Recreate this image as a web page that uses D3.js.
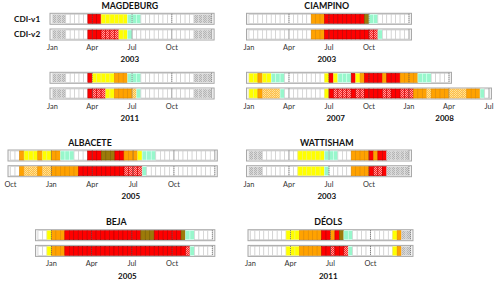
<!DOCTYPE html>
<html><head><meta charset="utf-8">
<script src="https://cdn.jsdelivr.net/npm/d3@7"></script>
<style>body{margin:0;background:#fff} svg{display:block}</style>
</head><body>
<svg id="chart" width="500" height="284"></svg>
<script>
// ---- categories (dekad classes) ----
const categoryCodes = ["W","G","Y","O","o","R","r","B","A"];
const seriesLabels = ["CDI-v1","CDI-v2"];

// ---- dekad runs per strip: [class, number of dekads] ----
const magdeburg2003V1 = [["G",3],["W",5],["R",3],["Y",6],["A",3],["W",12],["G",4]];
const magdeburg2003V2 = [["G",3],["W",5],["R",3],["r",4],["Y",2],["A",1],["W",14],["G",4]];
const magdeburg2011V1 = [["G",3],["W",5],["R",1],["Y",5],["O",3],["A",3],["W",12],["G",4]];
const magdeburg2011V2 = [["G",3],["W",5],["R",1],["r",3],["Y",2],["O",4],["o",1],["A",1],["W",12],["G",4]];
const albacete2005V1 = [["W",2],["O",1],["Y",3],["O",1],["Y",2],["O",2],["A",3],["W",3],["R",3],["B",3],["R",2],["O",3],["Y",1],["A",3],["W",13]];
const albacete2005V2 = [["W",2],["O",1],["o",3],["O",1],["o",2],["O",6],["R",10],["r",4],["A",1],["W",15]];
const beja2005V1 = [["W",2],["Y",1],["O",3],["R",17],["B",3],["R",6],["B",1],["A",2],["W",4]];
const beja2005V2 = [["W",2],["Y",1],["O",3],["R",27],["r",1],["A",1],["W",4]];
const ciampino2003V1 = [["W",14],["O",3],["R",9],["B",1],["A",2],["W",7]];
const ciampino2003V2 = [["W",14],["O",3],["R",10],["r",2],["A",1],["W",6]];
const ciampino2007V1 = [["Y",2],["O",1],["Y",2],["A",3],["W",9],["Y",1],["R",1],["Y",1],["A",3],["R",1],["Y",1],["O",1],["R",4],["O",1],["R",3],["O",4],["A",3],["W",4]];
const ciampino2007V2 = [["Y",2],["O",1],["o",4],["A",1],["W",9],["Y",1],["R",1],["r",4],["R",1],["r",2],["R",4],["r",2],["R",2],["r",3],["O",3],["o",1],["O",4],["o",4],["O",3],["A",1],["W",1]];
const wattisham2003V1 = [["G",3],["W",8],["Y",6],["A",3],["W",3],["O",4],["R",1],["O",1],["R",2],["G",5]];
const wattisham2003V2 = [["G",3],["W",8],["Y",6],["A",1],["W",5],["O",4],["R",1],["r",2],["R",1],["G",5]];
const deols2011V1 = [["W",8],["Y",3],["O",5],["R",2],["O",1],["R",1],["B",1],["A",2],["W",9],["Y",1],["O",1],["G",2]];
const deols2011V2 = [["W",8],["Y",3],["O",5],["R",2],["r",1],["R",2],["r",1],["A",1],["W",9],["Y",1],["O",1],["G",2]];

// ---- tick labels (month names) and their dekad index ----
const ticksYear = ["Jan","Apr","Jul","Oct"];
const ticksYearPos = [0,9,18,27];
const ticksAlbacete = ["Oct","Jan","Apr","Jul","Oct"];
const ticksAlbacetePos = [0,9,18,27,36];
const ticksBeja = ["Jan","Apr","Jul","Oct"];
const ticksBejaPos = [3,12,21,30];
const ticksCiampino07 = ["Jan","Apr","Jul","Oct","Jan","Apr","Jul"];
const ticksCiampino07Pos = [0,9,18,27,36,45,54];

// ---- year labels ----
const yearsMagdeburg03 = ["2003"], yearsMagdeburg11 = ["2011"], yearsAlbacete = ["2005"], yearsBeja = ["2005"];
const yearsCiampino03 = ["2003"], yearsCiampino07 = ["2007","2008"], yearsWattisham = ["2003"], yearsDeols = ["2011"];
const yearPos1 = [17.5], yearPosAlb = [26.5], yearPosBeja = [20], yearPosC07 = [19.5, 44];

// ---- layout (positions only) ----
const panels = [
  {title:"MAGDEBURG", v1:magdeburg2003V1, v2:magdeburg2003V2, ticks:ticksYear, tpos:ticksYearPos, years:yearsMagdeburg03, ypos:yearPos1, x0:52.5, d:4.42, top:13.3, labels:true},
  {title:"", v1:magdeburg2011V1, v2:magdeburg2011V2, ticks:ticksYear, tpos:ticksYearPos, years:yearsMagdeburg11, ypos:yearPos1, x0:52.5, d:4.42, top:72.3},
  {title:"ALBACETE", v1:albacete2005V1, v2:albacete2005V2, ticks:ticksAlbacete, tpos:ticksAlbacetePos, years:yearsAlbacete, ypos:yearPosAlb, x0:10.5, d:4.54, top:150},
  {title:"BEJA", v1:beja2005V1, v2:beja2005V2, ticks:ticksBeja, tpos:ticksBejaPos, years:yearsBeja, ypos:yearPosBeja, x0:38, d:4.47, top:229.7},
  {title:"CIAMPINO", v1:ciampino2003V1, v2:ciampino2003V2, ticks:ticksYear, tpos:ticksYearPos, years:yearsCiampino03, ypos:yearPos1, x0:249, d:4.444, top:13.3},
  {title:"", v1:ciampino2007V1, v2:ciampino2007V2, ticks:ticksCiampino07, tpos:ticksCiampino07Pos, years:yearsCiampino07, ypos:yearPosC07, x0:249, d:4.444, top:72.3},
  {title:"WATTISHAM", v1:wattisham2003V1, v2:wattisham2003V2, ticks:ticksYear, tpos:ticksYearPos, years:yearsWattisham, ypos:yearPos1, x0:249, d:4.444, top:150},
  {title:"DÉOLS", v1:deols2011V1, v2:deols2011V2, ticks:ticksYear, tpos:ticksYearPos, years:yearsDeols, ypos:yearPos1, x0:250.5, d:4.444, top:229.7}
];

const fillOf = {W:"#ffffff", G:"url(#pG)", Y:"#ffff00", O:"#ffa200", o:"url(#po)", R:"#ff0000", r:"url(#pr)", B:"#9c7a0a", A:"#98f7cc"};
const strokeOf = {W:"#c9c9c9", G:"#e2e2e2", Y:"#f0f070", O:"#e08a00", o:"#f7c060", R:"#b80000", r:"#c80000", B:"#7a5e00", A:"#d6fff0"};

const FONT = "Lato, 'Liberation Sans', sans-serif";
const svg = d3.select("#chart");
const defs = svg.append("defs");
function checker(id, base, dot){
  const p = defs.append("pattern").attr("id", id).attr("width",2).attr("height",2).attr("patternUnits","userSpaceOnUse");
  p.append("rect").attr("width",2).attr("height",2).attr("fill",base);
  p.append("rect").attr("width",1).attr("height",1).attr("fill",dot);
  p.append("rect").attr("x",1).attr("y",1).attr("width",1).attr("height",1).attr("fill",dot);
}
checker("pG", "#d6d6d6", "#b4b4b4");
checker("pr", "#ff2020", "#ff9c9c");
checker("po", "#ffc040", "#ffe09a");

function expand(runs){
  const out = [];
  runs.forEach(([c,n]) => { for (let i=0;i<n;i++) out.push(c); });
  return out;
}

const stripH = 11, stripGap = 15.7;

panels.forEach(p => {
  const n1 = expand(p.v1), n2 = expand(p.v2);
  const nMax = Math.max(n1.length, n2.length, d3.max(p.tpos));
  const x = d3.scaleLinear().domain([0, nMax]).range([p.x0, p.x0 + nMax*p.d]);
  const g = svg.append("g");

  [n1, n2].forEach((cells, si) => {
    const y0 = p.top + si*stripGap;
    const n = cells.length;
    g.append("rect")
      .attr("x", x(0) - 2.5).attr("y", y0)
      .attr("width", x(n) - x(0) + 5).attr("height", stripH)
      .attr("fill", "#f2f2f2").attr("stroke", "#a8a8a8").attr("stroke-width", 1);
    g.selectAll(null).data(cells).join("rect")
      .attr("x", (c,i) => x(i)).attr("y", y0 + 1)
      .attr("width", x(1) - x(0)).attr("height", stripH - 2)
      .attr("fill", c => fillOf[c])
      .attr("stroke", c => strokeOf[c]).attr("stroke-width", 0.6);
    // dotted quarter lines
    const qs = p.tpos.concat([d3.max(p.tpos) + 9]).filter(q => q > 0 && q <= n);
    g.selectAll(null).data(qs).join("line")
      .attr("x1", q => x(q)).attr("x2", q => x(q))
      .attr("y1", y0 + 0.5).attr("y2", y0 + stripH - 0.5)
      .attr("stroke", "#606060").attr("stroke-width", 0.8).attr("stroke-dasharray", "1,1");
    if (p.labels) {
      g.append("text").attr("x", 14).attr("y", y0 + stripH/2).attr("dy", "0.35em")
        .attr("font-family", FONT).attr("font-weight", "bold").attr("font-size", 8.2)
        .attr("fill", "#111").text(seriesLabels[si]);
    }
  });

  // month ticks
  g.selectAll(null).data(p.ticks).join("text")
    .attr("x", (t,i) => x(p.tpos[i])).attr("y", p.top + 34).attr("dy", "0.35em")
    .attr("text-anchor", "middle").attr("font-family", FONT).attr("font-size", 7.4)
    .attr("fill", "#333").text(t => t);
  // years
  g.selectAll(null).data(p.years).join("text")
    .attr("x", (t,i) => x(p.ypos[i])).attr("y", p.top + 46).attr("dy", "0.35em")
    .attr("text-anchor", "middle").attr("font-family", FONT).attr("font-weight", "bold").attr("font-size", 8)
    .attr("fill", "#111").text(t => t);
  if (p.title) {
    g.append("text").attr("x", x(17.5)).attr("y", p.top - 7.5).attr("dy", "0.35em")
      .attr("text-anchor", "middle").attr("font-family", FONT).attr("font-weight", "bold").attr("font-size", 8.8)
      .attr("fill", "#111").text(p.title);
  }
});
</script>
</body></html>
